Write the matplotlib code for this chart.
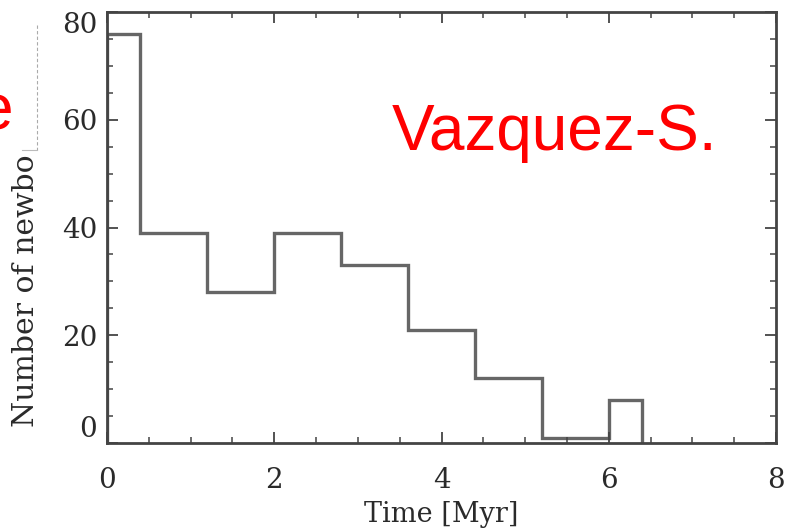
import matplotlib
matplotlib.use("Agg")
import matplotlib.pyplot as plt
from matplotlib.lines import Line2D
from matplotlib.ticker import MultipleLocator

# Data
bin_edges = [0.0, 0.4, 1.2, 2.0, 2.8, 3.6, 4.4, 5.2, 6.0, 6.4]
counts = [76, 39, 28, 39, 33, 21, 12, 1, 8]
x_ticks = [0, 2, 4, 6, 8]
y_ticks = [0, 20, 40, 60, 80]

W, H = 785, 529
fig = plt.figure(figsize=(W / 100, H / 100), dpi=100)
ax = fig.add_axes([107 / W, 1 - 443 / H, (776 - 107) / W, (443 - 12) / H])

ax.stairs(counts, bin_edges, color="#666666", linewidth=2.4, baseline=0)

ax.set_xlim(0, 8)
ax.set_ylim(0, 80)
ax.set_xticks(x_ticks)
ax.set_yticks(y_ticks)
ax.xaxis.set_minor_locator(MultipleLocator(0.5))
ax.yaxis.set_minor_locator(MultipleLocator(5))
ax.tick_params(which="both", direction="in", top=True, right=True, color="#444444")
ax.tick_params(which="major", length=8, width=1.3)
ax.tick_params(which="minor", length=4, width=1.1)
ax.tick_params(axis="x", which="major", pad=17)
ax.tick_params(axis="y", which="major", pad=7)
for lab in ax.get_xticklabels() + ax.get_yticklabels():
    lab.set_fontfamily("DejaVu Serif")
    lab.set_fontsize(20)
    lab.set_color("#2a2a2a")
ylabs = ax.get_yticklabels()
ylabs[0].set_verticalalignment("bottom")
ylabs[-1].set_verticalalignment("top")
for s in ax.spines.values():
    s.set_color("#444444")
    s.set_linewidth(2.0)

ax.set_xlabel("Time [Myr]", fontfamily="DejaVu Serif", fontsize=19.5, color="#2a2a2a", labelpad=5)

# truncated y label
fig.text(26 / W, 1 - 427 / H, "Number of newbo", rotation=90, ha="center", va="bottom",
         fontfamily="DejaVu Serif", fontsize=21.5, color="#2a2a2a")

# edges of the cover box
fig.add_artist(Line2D([37 / W, 37 / W], [1 - 25 / H, 1 - 150 / H], transform=fig.transFigure,
                      color="#aaaaaa", linewidth=0.8, linestyle=(0, (3, 2))))
fig.add_artist(Line2D([22 / W, 37 / W], [1 - 150 / H, 1 - 150 / H], transform=fig.transFigure,
                      color="#bbbbbb", linewidth=0.8))

# red annotations
ax.text(3.41, 54.4, "Vazquez-S.", color="red", fontsize=46, fontfamily="Liberation Sans",
        ha="left", va="baseline")
fig.text(13 / W, 1 - 130 / H, "e", color="red", fontsize=46, fontfamily="Liberation Sans",
         ha="right", va="baseline")

fig.savefig("out.png", dpi=100)
